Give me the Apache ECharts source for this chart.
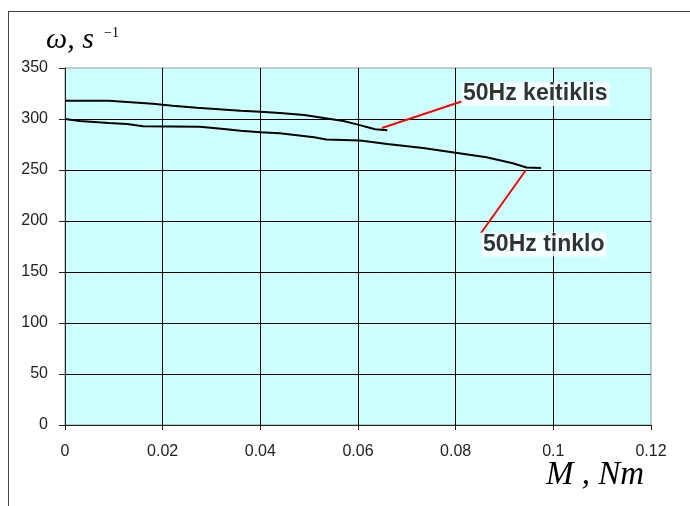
<!DOCTYPE html>
<html>
<head>
<meta charset="utf-8">
<script src="https://cdn.jsdelivr.net/npm/echarts@6/dist/echarts.min.js"></script>
<style>html,body{margin:0;padding:0;background:#fff;}#c{width:690px;height:506px;}</style>
</head>
<body>
<div id="c"></div>
<script>
// Data
var keitiklisM = [0, 0.009, 0.018, 0.022, 0.027, 0.036, 0.040, 0.044, 0.049, 0.053, 0.057, 0.060, 0.0635, 0.066];
var keitiklisW = [318, 318, 315, 313, 311, 308, 307, 306, 304, 301, 298, 294.5, 290, 289];
var tinkloM = [0, 0.003, 0.009, 0.0127, 0.016, 0.0276, 0.032, 0.036, 0.040, 0.044, 0.051, 0.0535, 0.0604, 0.066, 0.0733, 0.080, 0.0863, 0.0917, 0.0945, 0.0975];
var tinkloW = [300, 298, 296, 295, 293, 292.5, 290.5, 288.5, 287, 286, 282, 280, 279, 275.5, 271.6, 267, 262.5, 256.6, 252.5, 252];
var labelNames = ['50Hz keitiklis', '50Hz tinklo'];
var labelAnchorM = [0.0811, 0.0852];
var labelAnchorW = [324.5, 177];
var leaderKeitiklis = [[0.0815, 317.6], [0.0649, 291.2]];
var leaderTinklo = [[0.0944, 250], [0.0852, 188.2]];
var xTicks = [0, 0.02, 0.04, 0.06, 0.08, 0.1, 0.12];
var yTicks = [0, 50, 100, 150, 200, 250, 300, 350];

function zip(a, b) { return a.map(function (v, i) { return [v, b[i]]; }); }

var chart = echarts.init(document.getElementById('c'), null, {renderer: 'canvas'});
var option = {
  animation: false,
  backgroundColor: '#fff',
  grid: {left: 65, right: 39, top: 68, bottom: 81, show: true, backgroundColor: '#CCFFFF', borderColor: '#999', borderWidth: 1},
  xAxis: {
    type: 'value', min: xTicks[0], max: xTicks[xTicks.length - 1], interval: 0.02,
    axisLine: {show: true, lineStyle: {color: '#222', width: 1}},
    axisTick: {show: true, length: 5, lineStyle: {color: '#222'}},
    axisLabel: {margin: 19, color: '#222', fontFamily: 'Liberation Sans', fontSize: 16,
      formatter: function (v) { return String(Math.round(v * 100) / 100); }},
    splitLine: {show: true, showMinLine: false, showMaxLine: false, lineStyle: {color: '#000', width: 1}}
  },
  yAxis: {
    type: 'value', min: yTicks[0], max: yTicks[yTicks.length - 1], interval: 50,
    axisLine: {show: true, lineStyle: {color: '#222', width: 1}},
    axisTick: {show: true, length: 6, lineStyle: {color: '#222'}},
    axisLabel: {margin: 17, color: '#222', fontFamily: 'Liberation Sans', fontSize: 16},
    splitLine: {show: true, showMinLine: false, showMaxLine: false, lineStyle: {color: '#000', width: 1}}
  },
  graphic: [
    {type: 'line', silent: true, shape: {x1: 8, y1: 11.5, x2: 690, y2: 11.5}, style: {stroke: '#444', lineWidth: 1}},
    {type: 'line', silent: true, shape: {x1: 8.5, y1: 11, x2: 8.5, y2: 506}, style: {stroke: '#444', lineWidth: 1}},
    {type: 'text', left: 46, top: 25, style: {text: 'ω, s', font: 'italic 30px "Liberation Serif"', fill: '#000'}},
    {type: 'text', left: 104, top: 26, style: {text: '−1', font: '14px "Liberation Serif"', fill: '#000'}},
    {type: 'text', left: 546, top: 459, style: {text: 'M , Nm', font: 'italic 33px "Liberation Serif"', fill: '#000'}}
  ],
  series: [
    {type: 'line', name: labelNames[0], data: zip(keitiklisM, keitiklisW), showSymbol: false, lineStyle: {color: '#000', width: 2}, z: 3},
    {type: 'line', name: labelNames[1], data: zip(tinkloM, tinkloW), showSymbol: false, lineStyle: {color: '#000', width: 2}, z: 3},
    {type: 'line', data: leaderKeitiklis, showSymbol: false, lineStyle: {color: '#FF0000', width: 2}, z: 4},
    {type: 'line', data: leaderTinklo, showSymbol: false, lineStyle: {color: '#FF0000', width: 2}, z: 4},
    {type: 'scatter', symbolSize: 0, z: 5,
      data: labelNames.map(function (n, i) { return {name: n, value: [labelAnchorM[i], labelAnchorW[i]]}; }),
      label: {show: true, position: 'right', distance: 0, formatter: '{b}', color: '#000',
        fontFamily: 'Liberation Sans', fontWeight: 'bold', fontSize: 23, backgroundColor: '#fff', padding: [1, 2, 0, 2]}}
  ]
};
chart.setOption(option);
</script>
</body>
</html>
